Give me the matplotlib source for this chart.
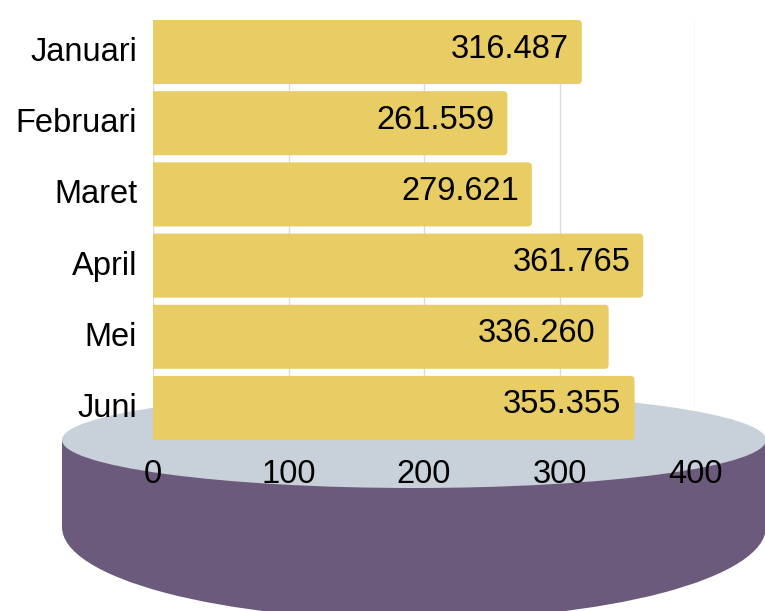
import matplotlib
matplotlib.use("Agg")
import matplotlib.pyplot as plt
from matplotlib.patches import Ellipse, Rectangle, FancyBboxPatch
from matplotlib.transforms import ScaledTranslation

months = ["Januari", "Februari", "Maret", "April", "Mei", "Juni"]
values = [316.487, 261.559, 279.621, 361.765, 336.260, 355.355]
value_labels = ["316.487", "261.559", "279.621", "361.765", "336.260", "355.355"]
xticks = [0, 100, 200, 300, 400]

BAR = "#E8CC64"
TOP = "#C8D0D9"
SIDE = "#6C5A7C"
FONT = ["Liberation Sans", "DejaVu Sans"]
FS = 23.5

W, H = 765, 611
fig = plt.figure(figsize=(W / 100, H / 100), dpi=100)

# decorative cylinder in pixel coordinates
bg = fig.add_axes([0, 0, 1, 1], zorder=0)
bg.set_xlim(0, W)
bg.set_ylim(H, 0)
bg.axis("off")
cx, a = 414, 352
bg.add_patch(Ellipse((cx, 527), 2 * a, 2 * 93, color=SIDE, lw=0))
bg.add_patch(Rectangle((cx - a, 440), 2 * a, 87, color=SIDE, lw=0))
bg.add_patch(Ellipse((cx, 440), 2 * a, 2 * 48, color=TOP, lw=0))

AXW, AXH = 542, 420
ax = fig.add_axes([153 / W, 171 / H, AXW / W, AXH / H], zorder=1)
ax.patch.set_alpha(0)
h = 0.9
ypos = list(range(len(months)))
bars = ax.barh(ypos, values, height=h, color=BAR, zorder=2)
ax.set_ylim(len(months) - 1 + h / 2, -h / 2)
ax.set_xlim(0, 400)

# round the bar corners (4 px)
xu = 400 / AXW
yu = (len(months) - 1 + h) / AXH
r = 4 * xu
for b in bars:
    x0, y0 = b.get_x(), b.get_y()
    w, hh = b.get_width(), b.get_height()
    b.set_visible(False)
    p = FancyBboxPatch((x0 - 2 * r, y0), w + 2 * r, hh,
                       boxstyle=f"round,pad=0,rounding_size={r}",
                       mutation_aspect=yu / xu, fc=BAR, ec="none", zorder=2)
    ax.add_patch(p)

ax.set_xticks(xticks)
ax.set_xticklabels([str(t) for t in xticks], fontsize=FS, family=FONT)
ax.set_yticks(ypos)
ax.set_yticklabels(months, fontsize=FS, family=FONT)
ax.tick_params(axis="both", length=0)
ax.tick_params(axis="x", pad=14)
ax.tick_params(axis="y", pad=11.5)
up = ScaledTranslation(0, 3 / 100, fig.dpi_scale_trans)
for t in ax.get_yticklabels():
    t.set_transform(t.get_transform() + up)
for s in ax.spines.values():
    s.set_visible(False)
ax.grid(axis="x", color="#DCDCDC", lw=1, zorder=1)
ax.set_axisbelow(True)

for y, v, lab in zip(ypos, values, value_labels):
    ax.annotate(lab, (v, y), xytext=(-13, 3), textcoords="offset pixels",
                ha="right", va="center", fontsize=FS, family=FONT, zorder=3)

fig.savefig("out.png", dpi=100)
